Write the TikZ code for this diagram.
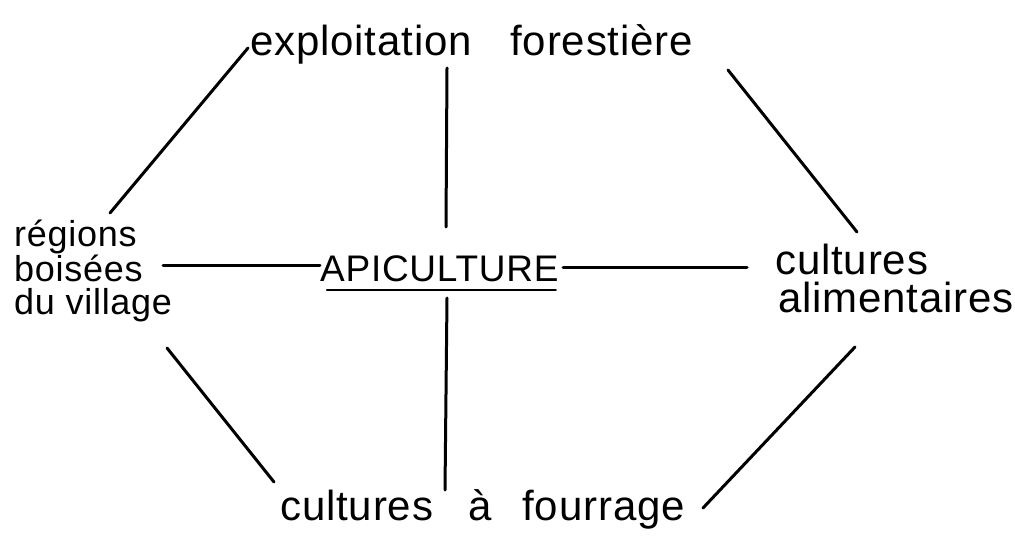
\documentclass[tikz,border=0pt]{standalone}
\usepackage{fontspec}
\setmainfont{Liberation Sans}[LetterSpace=2]
\usetikzlibrary{positioning}
\tikzset{
  term/.style={inner sep=0pt, anchor=base west, align=left, font=\fontsize{42}{38}\selectfont},
  term small/.style={term, font=\fontsize{36}{33}\selectfont},
  connect/.style={line width=3pt, line cap=round}
}

\begin{document}
\begin{tikzpicture}[x=1pt, y=1pt]
  \useasboundingbox (0,0) rectangle (1015,550);

  % labels
  \node[term] (expl) at (250,494) {exploitation\hspace{26pt} forestière};
  \node[term small] (reg) at (14,236) {régions\\boisées\\du village};
  \node[term, font=\fontsize{37}{37}\selectfont] (api) at (320,269) {APICULTURE};
  \node[term] (cal) at (775,238) {cultures\\\hspace*{3pt}alimentaires};
  \node[term] (fou) at (280,30) {cultures\hspace{23pt} à\hspace{18pt} fourrage};

  % underline
  \draw[connect, line width=2.6pt] ([shift={(7,-9)}]api.base west) -- ([shift={(-3,-9)}]api.base east);

  % links
  \draw[connect] ([shift={(-2,8)}]expl.base west) -- ([shift={(96,101)}]reg.base west);
  \draw[connect] ([shift={(197,-12)}]expl.base west) -- ([shift={(126,54)}]api.base west);
  \draw[connect] ([shift={(478,-14)}]expl.base west) -- ([shift={(82,80)}]cal.base west);
  \draw[connect] ([shift={(149,49)}]reg.base west) -- ([shift={(0,16)}]api.base west);
  \draw[connect] ([shift={(243,14)}]api.base west) -- ([shift={(-28,45)}]cal.base west);
  \draw[connect] ([shift={(153,-34)}]reg.base west) -- ([shift={(-6,38)}]fou.base west);
  \draw[connect] ([shift={(127,-17)}]api.base west) -- ([shift={(165,30)}]fou.base west);
  \draw[connect] ([shift={(80,-35)}]cal.base west) -- ([shift={(423,12)}]fou.base west);
\end{tikzpicture}
\end{document}
